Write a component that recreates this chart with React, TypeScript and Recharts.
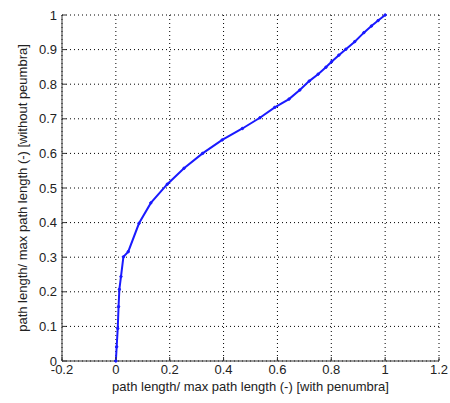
import { LineChart, Line, XAxis, YAxis, CartesianGrid, Label } from 'recharts';

const xWithPenumbra = [
  0, 0.003, 0.007, 0.01, 0.013, 0.019, 0.028, 0.046, 0.086, 0.13, 0.191, 0.253, 0.322, 0.395, 0.47,
  0.535, 0.59, 0.643, 0.683, 0.718, 0.751, 0.78, 0.801, 0.828, 0.854, 0.887, 0.921, 0.949, 0.974, 1.0,
];
const yWithoutPenumbra = [
  0, 0.041, 0.094, 0.157, 0.207, 0.244, 0.301, 0.316, 0.398, 0.457, 0.511, 0.557, 0.6, 0.639, 0.672,
  0.703, 0.733, 0.757, 0.783, 0.809, 0.829, 0.849, 0.865, 0.884, 0.901, 0.923, 0.949, 0.968, 0.984, 1.0,
];
const xTicks = [-0.2, 0, 0.2, 0.4, 0.6, 0.8, 1, 1.2];
const yTicks = [0, 0.1, 0.2, 0.3, 0.4, 0.5, 0.6, 0.7, 0.8, 0.9, 1];

const xTitle = 'path length/ max path length (-) [with penumbra]';
const yTitle = 'path length/ max path length (-) [without peumbra]';

const data = xWithPenumbra.map((x, i) => ({ x, y: yWithoutPenumbra[i] }));

const font = 'Liberation Sans, Arial, sans-serif';
const axisColor = '#333';
const tickStyle = { fontSize: 13, fill: '#222', fontFamily: font };
const fmt = (v: number) => String(Math.round(v * 10) / 10);
const blank = () => '';

export default function App() {
  return (
    <div style={{ position: 'absolute', left: 0, top: 0, background: '#fff' }}>
      <LineChart width={450} height={403} data={data} margin={{ top: 15, right: 11, left: 0, bottom: 0 }}>
        <CartesianGrid xAxisId="b" yAxisId="l" stroke="#000" strokeDasharray="1 3" />
        <XAxis
          xAxisId="b"
          type="number"
          dataKey="x"
          domain={[-0.2, 1.2]}
          ticks={xTicks}
          tickFormatter={fmt}
          height={42}
          stroke={axisColor}
          tickSize={-4}
          tickMargin={8}
          tick={tickStyle}
          allowDataOverflow
        >
          <Label value={xTitle} position="insideBottom" offset={12} style={{ fontSize: 13, fill: '#222', fontFamily: font }} />
        </XAxis>
        <XAxis
          xAxisId="t"
          orientation="top"
          type="number"
          dataKey="x"
          domain={[-0.2, 1.2]}
          ticks={xTicks}
          tickFormatter={blank}
          height={0}
          stroke={axisColor}
          tickSize={-4}
          allowDataOverflow
        />
        <YAxis
          yAxisId="l"
          type="number"
          domain={[0, 1]}
          ticks={yTicks}
          tickFormatter={fmt}
          width={62}
          stroke={axisColor}
          tickSize={-4}
          tickMargin={9}
          tick={tickStyle}
        >
          <Label
            value={yTitle}
            angle={-90}
            position="insideLeft"
            offset={0}
            dx={22}
            style={{ fontSize: 13, fill: '#222', fontFamily: font, textAnchor: 'middle' }}
          />
        </YAxis>
        <YAxis
          yAxisId="r"
          orientation="right"
          type="number"
          domain={[0, 1]}
          ticks={yTicks}
          tickFormatter={blank}
          width={0}
          stroke={axisColor}
          tickSize={-4}
        />
        <Line
          xAxisId="b"
          yAxisId="l"
          type="linear"
          dataKey="y"
          stroke="#1a1aff"
          strokeWidth={2}
          dot={{ r: 1.2, fill: '#1a1aff', stroke: '#1a1aff', strokeWidth: 1 }}
          isAnimationActive={false}
        />
      </LineChart>
    </div>
  );
}
